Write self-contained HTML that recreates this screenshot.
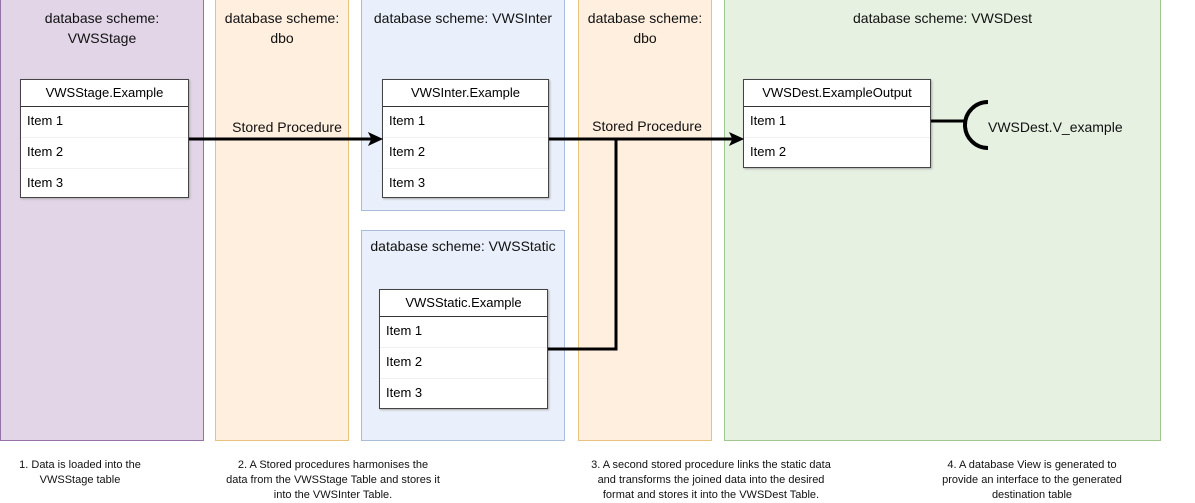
<!DOCTYPE html>
<html><head><meta charset="utf-8"><style>
body{margin:0;width:1195px;height:498px;background:#fff;position:relative;font-family:"Liberation Sans",sans-serif;overflow:hidden}
.p{position:absolute;box-sizing:border-box;border:1px solid}
.t{position:absolute;text-align:center;font-size:14px;color:#111;line-height:20px}
.tb{position:absolute;box-sizing:border-box;border:1px solid #444;background:#fff;box-shadow:1px 1px 2px #aaa}
.tb .h{height:26px;border-bottom:1px solid #333;text-align:center;font-size:13px;line-height:26px}
.tb .r{height:30px;line-height:28px;font-size:13px;padding-left:6px;border-bottom:1px solid #f0f0f0}
.c{position:absolute;font-size:11px;text-align:center;line-height:15px;color:#111}
</style></head><body>
<div class="p" style="left:0;top:-1px;width:204px;height:442px;background:#e1d5e7;border-color:#9673a6"></div>
<div class="p" style="left:215px;top:-1px;width:134px;height:442px;background:#ffefdf;border-color:#e8c27c"></div>
<div class="p" style="left:361px;top:-1px;width:204px;height:212px;background:#eaf0fb;border-color:#a9bcd9"></div>
<div class="p" style="left:361px;top:230px;width:204px;height:211px;background:#eaf0fb;border-color:#a9bcd9"></div>
<div class="p" style="left:578px;top:-1px;width:134px;height:442px;background:#ffefdf;border-color:#e8c27c"></div>
<div class="p" style="left:724px;top:-1px;width:437px;height:442px;background:#e6f1e2;border-color:#9fc78e"></div>

<div class="t" style="left:0;top:8px;width:204px">database scheme:<br>VWSStage</div>
<div class="t" style="left:215px;top:8px;width:134px">database scheme:<br>dbo</div>
<div class="t" style="left:361px;top:8px;width:204px">database scheme: VWSInter</div>
<div class="t" style="left:361px;top:236px;width:204px">database scheme: VWSStatic</div>
<div class="t" style="left:578px;top:8px;width:134px">database scheme:<br>dbo</div>
<div class="t" style="left:724px;top:8px;width:437px">database scheme: VWSDest</div>

<div class="tb" style="left:20px;top:79px;width:169px;height:119px"><div class="h">VWSStage.Example</div><div class="r">Item 1</div><div class="r">Item 2</div><div class="r" style="border:0">Item 3</div></div>
<div class="tb" style="left:382px;top:79px;width:167px;height:119px"><div class="h">VWSInter.Example</div><div class="r">Item 1</div><div class="r">Item 2</div><div class="r" style="border:0">Item 3</div></div>
<div class="tb" style="left:379px;top:289px;width:169px;height:120px"><div class="h">VWSStatic.Example</div><div class="r">Item 1</div><div class="r">Item 2</div><div class="r" style="border:0">Item 3</div></div>
<div class="tb" style="left:743px;top:79px;width:188px;height:89px"><div class="h">VWSDest.ExampleOutput</div><div class="r">Item 1</div><div class="r" style="border:0">Item 2</div></div>

<div class="t" style="left:215px;top:117px;width:144px">Stored Procedure</div>
<div class="t" style="left:578px;top:116px;width:138px">Stored Procedure</div>
<div class="t" style="left:988px;top:117px;text-align:left">VWSDest.V_example</div>

<svg style="position:absolute;left:0;top:0" width="1195" height="498">
<g stroke="#000" stroke-width="3" fill="none">
<line x1="189" y1="139" x2="372" y2="139"/>
<line x1="549" y1="139" x2="733" y2="139"/>
<polyline points="548,349 616,349 616,139"/>
<line x1="931" y1="121" x2="965" y2="121"/>
<path d="M988,102 A23,23 0 0 0 988,148" stroke-width="4"/>
</g>
<polygon points="382,139 369,133 372,139 369,145" fill="#000" stroke="#000" stroke-width="1"/>
<polygon points="743,139 730,133 733,139 730,145" fill="#000" stroke="#000" stroke-width="1"/>
</svg>

<div class="c" style="left:0;top:458px;width:160px">1. Data is loaded into the<br>VWSStage table</div>
<div class="c" style="left:213px;top:458px;width:240px">2. A Stored procedures harmonises the<br>data from the VWSStage Table and stores it<br>into the VWSInter Table.</div>
<div class="c" style="left:571px;top:458px;width:280px">3. A second stored procedure links the static data<br>and transforms the joined data into the desired<br>format and stores it into the VWSDest Table.</div>
<div class="c" style="left:922px;top:458px;width:220px">4. A database View is generated to<br>provide an interface to the generated<br>destination table</div>
</body></html>
